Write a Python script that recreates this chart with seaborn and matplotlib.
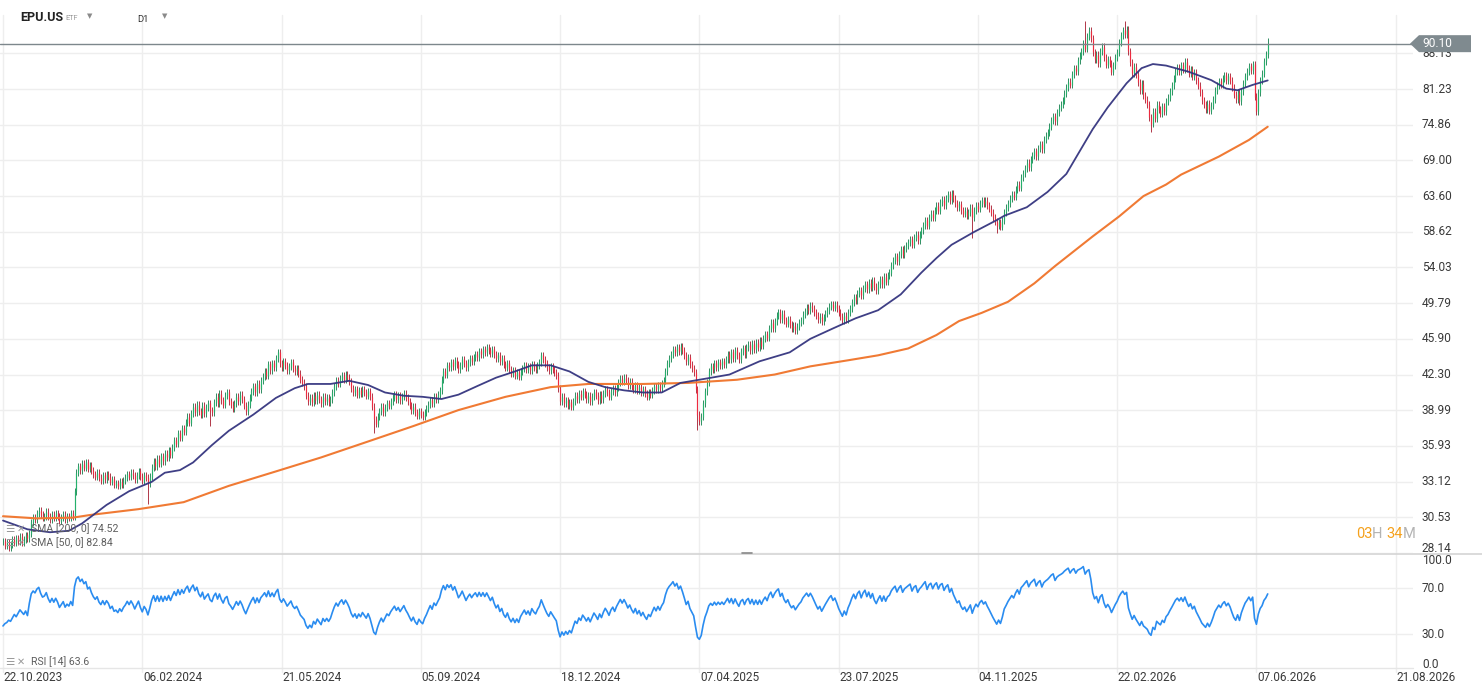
import numpy as np
import pandas as pd
import matplotlib
matplotlib.use("Agg")
import matplotlib.pyplot as plt
import seaborn as sns
from matplotlib.transforms import blended_transform_factory
from matplotlib.patches import Polygon
from matplotlib.lines import Line2D

# ---------------- data ----------------
closes = [
    28.9, 28.6, 28.8, 28.5, 28.7, 29.0, 28.8, 29.1, 28.9, 29.2, 28.8, 29.0, 29.3, 29.1, 29.4,
    30.2, 30.5, 30.4, 30.8, 31.0, 30.7, 30.5, 30.6, 30.9, 30.6, 30.4, 30.7, 30.5, 30.8, 30.6, 30.3, 30.5, 30.7, 30.4, 30.6, 30.5, 30.8, 30.6,
    32.4, 33.8, 34.3, 34.0,
    34.5, 34.2, 34.6, 34.1, 34.4, 34.0, 33.7,
    33.5, 33.8, 33.4, 33.2, 33.6, 33.3, 33.7, 33.5, 33.1, 33.3,
    32.9, 33.0, 32.8, 33.1, 32.9, 33.2,
    33.4, 33.7, 33.5, 33.8, 33.6, 33.3, 33.6, 33.9,
    33.5, 33.2, 33.6, 33.4, 33.0, 33.5,
    34.2, 34.7, 34.3, 34.9, 34.5, 35.1, 34.7, 35.3, 35.0, 35.6, 35.2, 35.8,
    36.4, 36.1, 37.0, 36.6, 37.4, 37.1, 37.9, 38.4, 37.9,
    38.7, 39.3, 38.8, 39.5, 38.9, 38.6, 39.4, 38.7, 39.2, 39.6, 39.0, 38.8,
    39.7, 40.2, 39.6, 40.5, 39.9, 39.5, 40.3, 40.6, 39.8,
    39.5, 39.1, 39.6, 40.2, 39.8, 40.4, 40.0, 39.4, 38.9, 39.5, 40.1,
    40.7, 41.2, 40.6, 41.4, 40.9, 41.7, 42.1,
    42.6, 42.2, 43.3, 42.7, 43.4, 43.0, 43.9, 44.5,
    43.4, 43.0, 43.6, 43.2, 42.7, 43.1, 43.5, 42.9, 42.6, 42.9,
    42.4, 41.8, 41.5, 41.2,
    40.3, 39.8, 40.1, 39.7, 40.3, 39.9, 40.4, 40.0, 39.6, 40.2, 39.8, 40.1, 39.7, 40.0, 40.6,
    41.2, 41.7, 41.4, 41.9, 42.2, 41.8, 42.3, 42.0, 41.6,
    41.0, 40.6, 40.9, 40.4, 40.8, 40.5, 40.9, 40.6, 40.3, 40.7, 40.2,
    39.3, 38.2, 37.8, 38.4,
    38.9, 39.3, 38.8, 39.2, 39.6, 39.4, 39.8, 40.1,
    40.4, 40.0, 40.3, 39.9, 40.2, 40.5, 40.1, 39.8,
    39.4, 39.0, 39.3, 38.8, 38.5, 38.9, 38.6, 38.4, 38.8, 39.1,
    39.5, 39.9, 39.6, 40.2, 40.0, 40.4, 40.8,
    41.8, 42.6, 42.3, 43.2, 43.0,
    43.5, 43.1, 43.7, 43.3, 42.8, 43.2, 43.8, 43.4, 43.0, 43.5, 43.9, 43.6, 44.0,
    44.3, 44.0, 44.6, 44.3, 44.8, 44.5, 45.0, 44.7, 44.4, 44.8, 44.3, 43.9, 44.2,
    43.6, 43.9, 43.3, 43.0, 43.4,
    42.8, 42.4, 42.7, 42.2, 42.5, 42.1, 42.6,
    42.9, 43.2, 42.8, 43.1, 42.7, 43.3, 43.0, 42.8, 43.2, 43.5,
    44.2, 43.8, 43.4,
    43.0, 42.7, 43.1, 42.8, 42.5, 42.2,
    41.0, 39.8, 40.2, 39.6, 39.9, 39.4, 39.7, 39.3, 39.8, 40.3, 40.0,
    40.5, 40.2, 40.7, 40.4, 40.0, 40.3, 39.8, 40.2, 40.6, 40.3, 39.9,
    40.4, 40.0, 40.5, 40.9, 40.6, 40.2, 40.7, 41.0, 40.6, 41.1,
    41.5, 41.9, 41.6, 42.0, 41.7, 41.3, 41.6,
    41.2, 40.9, 41.3, 40.8, 41.1, 40.6, 40.9, 40.5, 40.2, 40.6, 40.4,
    40.8, 41.2, 40.9, 41.3, 41.0, 41.4, 41.7,
    42.6, 43.4, 43.9, 44.3, 44.8, 44.5, 45.0, 44.6, 45.1, 44.7,
    44.2, 43.6, 44.0, 43.3, 42.9, 42.5,
    40.9, 38.6, 38.0,
    38.4, 39.6, 40.7, 41.5,
    42.6, 43.1, 42.8, 43.4, 43.0, 43.5, 43.2, 43.6, 43.3,
    43.8, 44.3, 43.8, 44.5, 43.9, 44.7, 44.2, 43.8, 44.6, 44.9, 44.3, 45.0, 45.3, 44.7, 45.4, 44.8, 45.5, 45.0, 45.7, 45.2, 45.9,
    46.4, 46.0, 47.0, 47.6, 47.0, 47.8,
    48.4, 48.8, 48.0, 48.6, 47.9, 47.5, 48.0,
    47.4, 47.0, 47.3, 46.8, 47.2, 47.6, 47.9,
    48.5, 48.9, 49.3, 49.0, 49.5, 49.2, 48.8,
    48.4, 48.0, 48.3, 47.8, 48.2, 48.6, 49.0,
    49.4, 49.7, 49.3, 49.6, 49.2,
    48.7, 48.3, 47.9, 48.4, 48.0, 48.7, 49.2,
    49.9, 50.5, 50.1, 50.9, 51.3, 50.7, 51.5,
    52.0, 51.4, 52.2, 51.6, 52.4, 51.7, 51.3,
    52.0, 52.6, 52.0, 52.9, 52.3, 53.1, 53.4,
    54.3, 54.9, 55.4, 54.8, 55.7, 56.3, 55.6, 56.4, 56.8,
    57.2, 57.6, 56.9, 57.8, 58.2, 57.5, 58.3,
    58.8, 59.5, 60.2, 59.4, 60.6, 61.1, 60.5,
    61.6, 62.2, 61.5, 62.7, 63.1, 62.3, 63.3, 63.9, 63.0, 64.0, 63.2,
    62.6, 62.0, 62.4, 61.6, 61.1, 61.5, 60.8, 61.3, 61.9, 60.6,
    61.5, 62.2, 61.8, 62.6, 63.0, 62.5, 62.9, 62.3, 61.8,
    61.2, 60.6, 60.0, 59.4, 59.9, 59.3, 60.1,
    61.3, 61.9, 62.6, 63.2, 63.8, 63.5,
    64.5, 65.3, 64.8, 66.4, 67.0,
    67.8, 68.6, 67.9, 69.1, 69.8, 70.5, 69.7, 70.9, 71.6, 70.8, 72.3, 73.0, 73.6,
    74.5, 75.6, 76.3, 75.5, 77.0, 77.8, 78.4, 79.1,
    80.4, 81.5, 82.6, 82.0, 84.0, 85.2, 84.6, 86.8, 87.6,
    88.6, 90.2, 89.1, 91.5, 92.8, 91.2,
    88.4, 86.9, 87.8, 86.2, 88.6, 89.5, 87.3, 85.9, 87.0,
    86.1, 84.5, 85.8, 87.2, 88.4,
    90.3, 91.8, 92.9, 92.1, 93.0,
    88.6, 86.4, 84.2, 85.5, 83.9,
    82.5, 81.0, 82.2, 80.1, 79.3,
    78.4, 76.2, 75.0, 77.1, 76.0, 78.4,
    77.5, 76.8, 78.1, 77.2, 78.9, 79.6, 80.8,
    81.9, 83.2, 84.5, 85.3, 84.6, 85.8, 84.9,
    86.5, 85.2, 84.1, 85.0, 83.6, 84.4, 82.9, 81.8, 80.6,
    79.2, 78.4, 77.6, 78.5, 77.3, 78.2, 79.4,
    80.9, 81.8, 82.7, 82.1, 83.2, 83.8, 82.9, 83.6, 82.8,
    81.5, 80.2, 79.4, 80.6, 79.0, 80.8, 82.2,
    83.6, 84.5, 85.6, 84.8, 86.0,
    79.8, 77.2,
    80.6, 82.9, 84.1, 86.6, 87.9, 90.1,
]
# notable wick extremes (bar index, price)
low_wick_idx = [77, 110, 197, 369, 515, 528, 610, 666]
low_wick_val = [31.5, 37.6, 37.0, 37.3, 57.8, 58.5, 73.6, 76.6]
high_wick_idx = [146, 575, 596, 672]
high_wick_val = [44.8, 94.8, 94.8, 91.3]

# RSI values read for the first bars (before a 14-bar history exists)
rsi_head = [37, 39, 40, 42, 41, 44, 47, 45, 48, 51, 49, 47, 50, 46]

sma50_idx = [0, 13, 25, 35, 42, 55, 67, 79, 86, 94, 101, 111, 120, 133, 145, 155, 162, 174,
             184, 194, 203, 213, 223, 233, 242, 252, 262, 272, 281, 291, 301, 311, 320, 330,
             340, 350, 360, 370, 386, 402, 418, 429, 441, 453, 465, 477, 488, 496, 504, 516,
             528, 532, 544, 555, 565, 571, 579, 587, 597, 605, 611, 618, 630, 642, 650, 656,
             664, 672]
sma50_val = [30.3, 29.7, 29.5, 29.6, 30.1, 31.4, 32.4, 33.1, 33.8, 34.0, 34.6, 36.0, 37.2,
             38.6, 40.1, 41.0, 41.4, 41.4, 41.7, 41.3, 40.6, 40.3, 40.2, 40.0, 40.4, 41.2,
             42.0, 42.6, 43.2, 43.2, 42.6, 41.6, 41.1, 40.8, 40.6, 40.6, 41.5, 41.8, 42.3,
             43.6, 44.5, 45.9, 47.0, 48.1, 49.0, 50.8, 53.4, 55.2, 56.9, 58.6, 60.2, 60.8,
             62.0, 64.2, 66.9, 69.9, 74.1, 77.9, 82.3, 85.2, 86.0, 85.7, 84.5, 82.9, 81.3,
             81.0, 82.0, 82.84]

sma200_idx = [0, 18, 37, 47, 72, 96, 120, 145, 169, 194, 218, 242, 267, 291, 311, 340, 364,
              390, 410, 429, 449, 465, 481, 496, 508, 520, 534, 548, 559, 579, 593, 606, 618,
              626, 646, 662, 672]
sma200_val = [30.6, 30.45, 30.5, 30.7, 31.1, 31.6, 32.8, 33.9, 35.0, 36.3, 37.6, 39.0, 40.2,
              41.1, 41.4, 41.4, 41.5, 41.8, 42.3, 43.1, 43.7, 44.2, 44.9, 46.3, 47.8, 48.7,
              49.95, 52.1, 54.2, 58.0, 60.7, 63.6, 65.3, 66.8, 69.6, 72.3, 74.52]

price_ticks = [28.14, 30.53, 33.12, 35.93, 38.99, 42.30, 45.90, 49.79, 54.03, 58.62,
               63.60, 69.00, 74.86, 81.23, 88.13]
rsi_ticks = [0, 30, 70, 100]
date_labels = ["22.10.2023", "06.02.2024", "21.05.2024", "05.09.2024", "18.12.2024",
               "07.04.2025", "23.07.2025", "04.11.2025", "22.02.2026", "07.06.2026",
               "21.08.2026"]
bars_per_label = 74
last_price = 90.10

# ---------------- style ----------------
sns.set_theme(style="white")
plt.rcParams['font.family'] = ['Roboto', 'DejaVu Sans']

W, H = 1482, 694
fig = plt.figure(figsize=(W / 100, H / 100), dpi=100)
fig.patch.set_facecolor("white")

def fy(py):
    return 1 - py / H

PLOT_R = 1413
PX_PER_BAR = 1.882
ax = fig.add_axes([0, fy(553), PLOT_R / W, (553 - 15) / H])
rx = fig.add_axes([0, fy(668.5), PLOT_R / W, 115 / H])
xl = (-3 / PX_PER_BAR, (PLOT_R - 3) / PX_PER_BAR)
for a in (ax, rx):
    a.set_xlim(*xl)
    a.set_facecolor("none")
    for s in a.spines.values():
        s.set_visible(False)

ax.set_yscale("log")
ax.set_ylim(28.134, 96.20)
rx.set_ylim(0, 100)

GRID = "#eeeeee"
for p in price_ticks:
    ax.axhline(p, color=GRID, lw=1, zorder=0)
for r in (30, 70):
    rx.axhline(r, color=GRID, lw=1, zorder=0)

tick_pos = [k * bars_per_label for k in range(len(date_labels))]
bt = blended_transform_factory(ax.transData, fig.transFigure)
for tp in tick_pos:
    fig.add_artist(Line2D([tp, tp], [fy(15), fy(672)], transform=bt, color=GRID, lw=1, zorder=0))

# ---------------- candles ----------------
c = np.array(closes, dtype=float)
idx = np.arange(len(c))
o = np.r_[c[0], c[:-1]]
hi = np.maximum(o, c) * 1.008
lo = np.minimum(o, c) * 0.992
for i, v in zip(low_wick_idx, low_wick_val):
    lo[i] = v
for i, v in zip(high_wick_idx, high_wick_val):
    hi[i] = v
up = c >= o
dn = ~up
ax.vlines(idx[up], lo[up], hi[up], color="#0f7a49", lw=0.6, zorder=2)
ax.vlines(idx[up], o[up], c[up], color="#25b06b", lw=0.85, zorder=3)
ax.vlines(idx[dn], lo[dn], hi[dn], color="#a3182b", lw=0.6, zorder=2)
ax.vlines(idx[dn], o[dn], c[dn], color="#ee2a3f", lw=0.85, zorder=3)

# ---------------- moving averages ----------------
sns.lineplot(x=sma200_idx, y=sma200_val, ax=ax, color="#f07a34", lw=1.5, zorder=4)
sns.lineplot(x=sma50_idx, y=sma50_val, ax=ax, color="#34347f", lw=1.3, zorder=4, alpha=0.95)
ax.set_xlim(*xl)
ax.set_ylim(28.134, 96.20)
ax.set_xlabel(""); ax.set_ylabel("")
ax.set_xticks([]); ax.set_yticks([])
ax.yaxis.set_minor_locator(matplotlib.ticker.NullLocator())

# last price line + tag
ax.axhline(last_price, color="#7d878c", lw=1, zorder=5)
ypix = ax.transData.transform((0, last_price))[1]
yf = ypix / H
tag = Polygon([(1410 / W, yf), (1419 / W, yf + 8.5 / H), (1471 / W, yf + 8.5 / H),
               (1471 / W, yf - 8.5 / H), (1419 / W, yf - 8.5 / H)],
              closed=True, transform=fig.transFigure, facecolor="#7f8a8f",
              edgecolor="none", zorder=20)
fig.add_artist(tag)

# ---------------- RSI (Wilder, 14) ----------------
d = np.diff(c)
gains = np.clip(d, 0, None)
losses = np.clip(-d, 0, None)
n = 14
rsi = np.full(len(c), np.nan)
rsi[:n] = rsi_head
ag = gains[:n].mean()
al = losses[:n].mean()
rsi[n] = 100 - 100 / (1 + ag / al)
for k in range(n + 1, len(c)):
    ag = (ag * (n - 1) + gains[k - 1]) / n
    al = (al * (n - 1) + losses[k - 1]) / n
    rsi[k] = 100 - 100 / (1 + ag / al)
sns.lineplot(x=idx, y=rsi, ax=rx, color="#2a8cf0", lw=1.2)
rx.set_xlim(*xl); rx.set_ylim(0, 100)
rx.set_xlabel(""); rx.set_ylabel("")
rx.set_xticks([]); rx.set_yticks([])

# panel separators
fig.add_artist(Line2D([0, 1], [fy(553.5), fy(553.5)], transform=fig.transFigure, color="#d4d4d4", lw=1.2))
fig.add_artist(Line2D([0, PLOT_R / W], [fy(667.5), fy(667.5)], transform=fig.transFigure, color="#e6e6e6", lw=1))
fig.add_artist(Line2D([742 / W, 752 / W], [fy(552.5), fy(552.5)], transform=fig.transFigure, color="#888888", lw=1.2))

# ---------------- texts ----------------
TXT = "#3a3a3a"
bt_y = blended_transform_factory(fig.transFigure, ax.transData)
for p in price_ticks:
    if p == price_ticks[0]:
        fig.text(1422 / W, fy(549), f"{p:.2f}", fontsize=8.6, color=TXT, va="center", ha="left")
    else:
        fig.text(1422 / W, p, f"{p:.2f}", transform=bt_y, fontsize=8.6, color=TXT, va="center", ha="left")
fig.text(1422 / W, yf, f"{last_price:.2f}", fontsize=8.6, color="white", va="center", ha="left", zorder=21)

rt_y = blended_transform_factory(fig.transFigure, rx.transData)
for r in rsi_ticks:
    lab = f"{r:.1f}"
    if r == 100:
        fig.text(1422 / W, fy(561), lab, fontsize=8.6, color=TXT, va="center", ha="left")
    elif r == 0:
        fig.text(1422 / W, fy(664), lab, fontsize=8.6, color=TXT, va="center", ha="left")
    else:
        fig.text(1422 / W, r, lab, transform=rt_y, fontsize=8.6, color=TXT, va="center", ha="left")

for tp, lab in zip(tick_pos, date_labels):
    fig.text(tp + 0.4, fy(677.5), lab, transform=bt, fontsize=8.5, color=TXT, va="center", ha="left")

# header
fig.text(20 / W, fy(17.5), "EPU.US", fontsize=9, fontweight="bold", color="#222222", va="center")
fig.text(65 / W, fy(18.5), "ETF", fontsize=5.3, color="#9a9a9a", va="center")
fig.text(87 / W, fy(16.5), "▼", fontsize=5, color="#8a8a8a", va="center", family=["DejaVu Sans"])
fig.text(137 / W, fy(19), "D1", fontsize=6.8, color="#333333", va="center")
fig.text(162 / W, fy(16.5), "▼", fontsize=5, color="#8a8a8a", va="center", family=["DejaVu Sans"])

# legends
LEG = "#5f5f5f"
for ypx, lab in ((529, "SMA [200, 0] 74.52"), (543, "SMA [50, 0] 82.84"), (662, "RSI [14] 63.6")):
    fig.text(5 / W, fy(ypx), "☰", fontsize=7.5, color="#9a9a9a", va="center", family=["DejaVu Sans"])
    fig.text(17 / W, fy(ypx), "✕", fontsize=7, color="#9a9a9a", va="center", family=["DejaVu Sans"])
    fig.text(31 / W, fy(ypx), lab, fontsize=7.6, color=LEG, va="center")

# countdown
xs = 1356
for part, col in (("03", "#f5a11c"), ("H ", "#b3b3b3"), ("34", "#f5a11c"), ("M", "#b3b3b3")):
    t = fig.text(xs / W, fy(534.5), part, fontsize=10.5, color=col, va="center", ha="left")
    fig.canvas.draw()
    bb = t.get_window_extent()
    xs += bb.width

fig.savefig("out.png", dpi=100, facecolor="white")
